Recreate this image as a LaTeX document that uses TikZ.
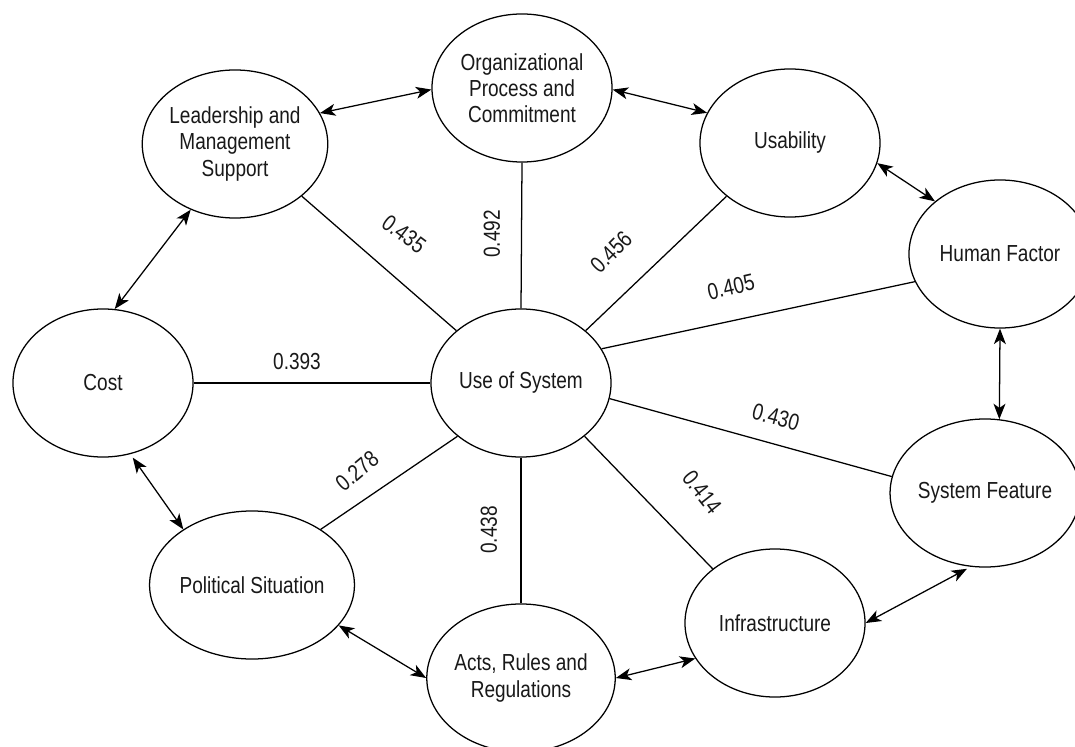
\documentclass[tikz,border=0pt]{standalone}
\usepackage{fontspec}
\newfontfamily\lblfont[FakeStretch=0.82]{Liberation Sans}
\usetikzlibrary{shapes.geometric,arrows.meta}
\begin{document}
\begin{tikzpicture}[x=0.025cm,y=-0.025cm,
  ell/.style={ellipse,draw=black,line width=0.9pt,minimum width=4.5cm,minimum height=3.7cm,inner sep=0pt,align=center,
    font=\lblfont\fontsize{16.5}{18.5}\selectfont,text=black!90},
  wide/.style={minimum width=4.55cm},
  lbl/.style={font=\lblfont\fontsize{16.5}{18.5}\selectfont,text=black!90,inner sep=0pt},
  link/.style={line width=0.9pt,draw=black},
  biarrow/.style={line width=0.9pt,draw=black,{Stealth[length=11pt,width=8.5pt,inset=3pt]}-{Stealth[length=11pt,width=8.5pt,inset=3pt]}}
]
\useasboundingbox (0,0) rectangle (1075,747);
\fill[white] (0,0) rectangle (1075,747);
% nodes
\node[ell] (lead)  at (235,144) {Leadership and\\Management\\Support};
\node[ell] (org)   at (522,88)  {Organizational\\Process and\\Commitment};
\node[ell] (usab)  at (790,143) {Usability};
\node[ell,wide] (human) at (1000,254) {Human Factor};
\node[ell] (cost)  at (103,383) {Cost};
\node[ell] (use)   at (521,383) {Use of System};
\node[ell] (sysf)  at (985,493) {System Feature};
\node[ell] (pol)   at (252,585) {Political Situation};
\node[ell] (acts)  at (521,678) {Acts, Rules and\\Regulations};
\node[ell] (infra) at (775,623) {Infrastructure};
% links to Use of System
\draw[link] (lead.-38) -- (use.141);
\draw[link] (org.south) -- (use.north);
\draw[link] (usab.220) -- (use.39);
\draw[link] (human.198) -- (use.23);
\draw[link] (cost.east) -- (use.west);
\draw[link] (sysf.170) -- (use.-10);
\draw[link] (infra.139) -- (use.-40);
\draw[link] (acts.north) -- (use.south);
\draw[link] (pol.39) -- (use.220);
% double arrows around the ring
\draw[biarrow] (lead.20) -- (org.181);
\draw[biarrow] (org.-1) -- (usab.160);
\draw[biarrow] (usab.-13) -- (human.141);
\draw[biarrow] (human.south) -- (sysf.79);
\draw[biarrow, shorten <=3pt] (sysf.-101) -- (infra.0);
\draw[biarrow] (infra.204) -- (acts.0);
\draw[biarrow] (acts.180) -- (pol.-25);
\draw[biarrow, shorten >=3pt] (pol.141) -- (cost.-69);
\draw[biarrow] (cost.81) -- (lead.236);
% coefficient labels
\node[lbl,rotate=-37] (l435) at (404,234) {0.435};
\node[lbl,rotate=90]  (l492) at (492,234) {0.492};
\node[lbl,rotate=45]  (l456) at (611,252) {0.456};
\node[lbl,rotate=13]  (l405) at (731,287) {0.405};
\node[lbl]            (l393) at (297,362) {0.393};
\node[lbl,rotate=-15] (l430) at (776,417) {0.430};
\node[lbl,rotate=-52] (l414) at (702,492) {0.414};
\node[lbl,rotate=40]  (l278) at (357,471) {0.278};
\node[lbl,rotate=90]  (l438) at (489,530) {0.438};
\end{tikzpicture}
\end{document}
